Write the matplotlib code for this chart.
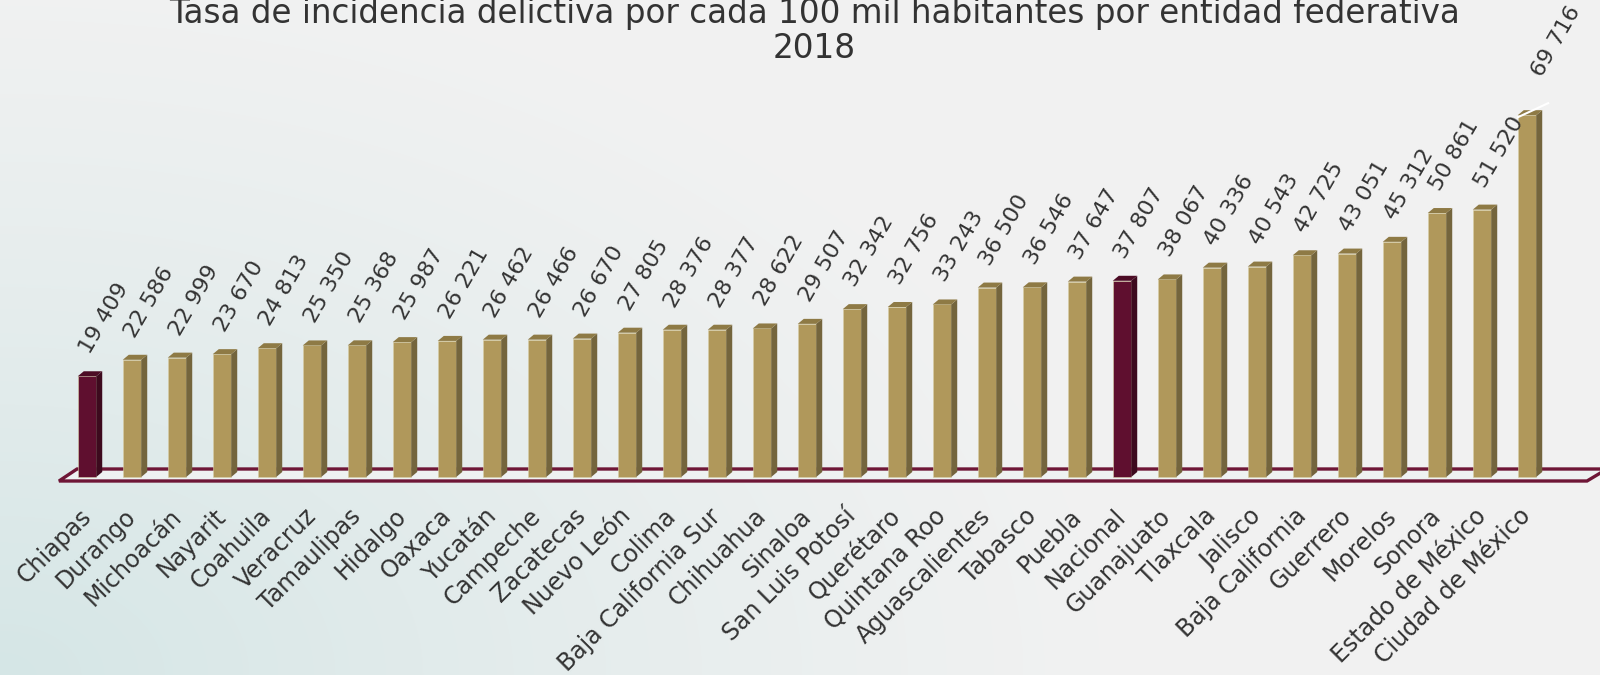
import numpy as np
import matplotlib
matplotlib.use("Agg")
import matplotlib.pyplot as plt
from matplotlib.patches import Polygon

# data
estados = ["Chiapas", "Durango", "Michoacán", "Nayarit", "Coahuila", "Veracruz",
           "Tamaulipas", "Hidalgo", "Oaxaca", "Yucatán", "Campeche", "Zacatecas",
           "Nuevo León", "Colima", "Baja California Sur", "Chihuahua", "Sinaloa",
           "San Luis Potosí", "Querétaro", "Quintana Roo", "Aguascalientes", "Tabasco",
           "Puebla", "Nacional", "Guanajuato", "Tlaxcala", "Jalisco", "Baja California",
           "Guerrero", "Morelos", "Sonora", "Estado de México", "Ciudad de México"]
tasa = [19409, 22586, 22999, 23670, 24813, 25350, 25368, 25987, 26221, 26462,
        26466, 26670, 27805, 28376, 28377, 28622, 29507, 32342, 32756, 33243,
        36500, 36546, 37647, 37807, 38067, 40336, 40543, 42725, 43051, 45312,
        50861, 51520, 69716]
resaltados = ["Chiapas", "Nacional"]
titulo = "Tasa de incidencia delictiva por cada 100 mil habitantes por entidad federativa"
anio = "2018"

W, H = 1600, 675
fig = plt.figure(figsize=(W / 100, H / 100), dpi=100)

# background gradient
bg = fig.add_axes([0, 0, 1, 1], zorder=0)
yy, xx = np.mgrid[0:H, 0:W]
d = np.sqrt((xx / 1.3) ** 2 + ((H - yy) * 1.2) ** 2)
t = np.clip(1 - d / 900, 0, 1) ** 1.2
base = np.array([0.949, 0.949, 0.949])
tint = np.array([0.835, 0.902, 0.902])
img = base[None, None, :] * (1 - t[..., None]) + tint[None, None, :] * t[..., None]
bg.imshow(img[::-1], origin="lower", aspect="auto", extent=[0, W, 0, H])
bg.axis("off")

# main axes in pixel-matched scales
px_cat = 45.0          # px per category
px_val = 5.19 / 1000   # px per unit
x0_px, base_px = 87, 198
ax = fig.add_axes([0, 0, 1, 1], zorder=1)
ax.patch.set_alpha(0)
ax.set_xlim(-x0_px / px_cat, (W - x0_px) / px_cat)
ax.set_ylim(-base_px / px_val, (H - base_px) / px_val)
ax.axis("off")

def ux(p):
    return p / px_cat

def uy(p):
    return p / px_val

gold = ("#b0985b", "#74653d", "#8e7a45")
maroon = ("#5f0f2f", "#3d0a1e", "#4c0c25")
txt = "#333333"

# floor
floor = Polygon([(ux(-28), uy(-4)), (ux(1500), uy(-4)), (ux(1520), uy(8)),
                 (ux(-10), uy(8))], closed=True, facecolor="#eef2f2",
                edgecolor="#6e1636", lw=2.4, zorder=1, clip_on=False)
ax.add_patch(floor)

w = 0.41
dx, dy = ux(6), uy(5)
x = np.arange(len(estados))
colores = [maroon[0] if e in resaltados else gold[0] for e in estados]
ax.bar(x, tasa, width=w, color=colores, edgecolor="#d8cfa8", lw=0.4, zorder=3)
for i, (e, v) in enumerate(zip(estados, tasa)):
    c = maroon if e in resaltados else gold
    xl, xr = i - w / 2, i + w / 2
    ax.add_patch(Polygon([(xr, 0), (xr + dx, dy), (xr + dx, v + dy), (xr, v)],
                         closed=True, facecolor=c[1], edgecolor="none", zorder=3))
    ax.add_patch(Polygon([(xl, v), (xr, v), (xr + dx, v + dy), (xl + dx, v + dy)],
                         closed=True, facecolor=c[2], edgecolor="none", zorder=3))
    etiqueta = f"{v:,}".replace(",", " ")
    if i == len(estados) - 1:
        ax.plot([i - 0.2, i + 0.47], [v - uy(2), v + uy(12)], color="white", lw=1.5, zorder=4)
        ax.text(i + 0.4, v + uy(35), etiqueta, rotation=60, rotation_mode="anchor",
                ha="left", va="bottom", fontsize=16, color=txt, zorder=5)
    else:
        ax.text(xl + ux(16), v + uy(19), etiqueta, rotation=60, rotation_mode="anchor",
                ha="left", va="bottom", fontsize=16, color=txt, zorder=5)
    ax.text(i - 0.18, uy(-27), e, rotation=45, rotation_mode="anchor",
            ha="right", va="top", fontsize=17, color=txt, zorder=5)

fig.text(0.509, 1 - 14 / H, titulo, ha="center", va="center", fontsize=23.5, color=txt)
fig.text(0.509, 1 - 48 / H, anio, ha="center", va="center", fontsize=23.5, color=txt)

fig.savefig("out.png", dpi=100)
